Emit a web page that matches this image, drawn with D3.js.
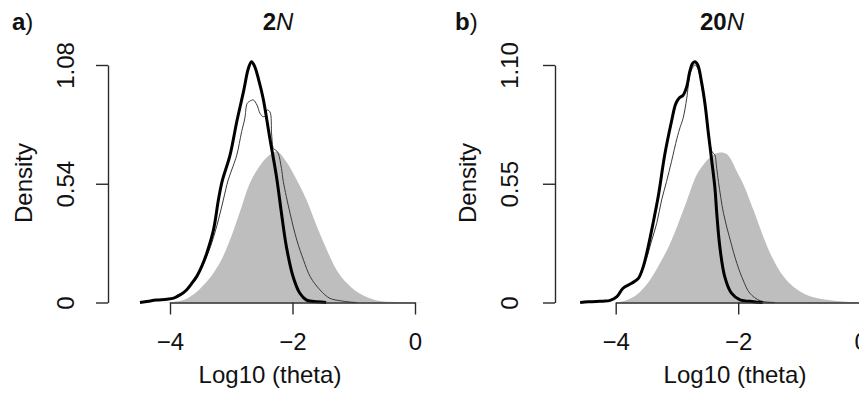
<!DOCTYPE html>
<html>
<head>
<meta charset="utf-8">
<script src="https://cdn.jsdelivr.net/npm/d3@7"></script>
<style>
  body { margin: 0; background: #fff; }
  svg { display: block; font-family: "Liberation Sans", Arial, Helvetica, sans-serif; }
  .axis path, .axis line { stroke: #2a2a2a; stroke-width: 1.4; }
</style>
</head>
<body>
<svg width="859" height="400"></svg>
<script>
// Panel a) 2N -- density curves, [log10 theta, density]
const aGrey = [[-4.1,0],[-3.9,0.004],[-3.75,0.015],[-3.6,0.04],[-3.45,0.08],[-3.3,0.13],[-3.15,0.2],[-3.0,0.3],[-2.85,0.42],[-2.7,0.54],[-2.55,0.615],[-2.4,0.665],[-2.25,0.686],[-2.1,0.64],[-1.93,0.557],[-1.77,0.466],[-1.6,0.345],[-1.44,0.24],[-1.28,0.148],[-1.11,0.087],[-0.95,0.049],[-0.75,0.02],[-0.6,0.008],[-0.3,0.002],[0.6,0]];
const aThick = [[-4.49,0],[-4.35,0.006],[-4.22,0.011],[-4.05,0.015],[-3.94,0.02],[-3.83,0.035],[-3.73,0.057],[-3.65,0.085],[-3.56,0.12],[-3.48,0.165],[-3.40,0.224],[-3.29,0.33],[-3.21,0.466],[-3.15,0.55],[-3.02,0.67],[-2.91,0.822],[-2.80,0.959],[-2.72,1.065],[-2.67,1.095],[-2.62,1.075],[-2.55,1.01],[-2.48,0.929],[-2.37,0.747],[-2.26,0.57],[-2.18,0.406],[-2.10,0.254],[-1.99,0.117],[-1.88,0.042],[-1.77,0.011],[-1.6,0.003],[-1.45,0]];
const aThin = [[-4.49,0],[-4.35,0.006],[-4.22,0.011],[-4.05,0.015],[-3.94,0.02],[-3.89,0.034],[-3.82,0.04],[-3.76,0.05],[-3.68,0.075],[-3.58,0.11],[-3.48,0.16],[-3.40,0.21],[-3.32,0.27],[-3.21,0.375],[-3.13,0.466],[-3.05,0.557],[-2.97,0.62],[-2.91,0.67],[-2.83,0.777],[-2.78,0.835],[-2.74,0.905],[-2.70,0.915],[-2.64,0.921],[-2.58,0.898],[-2.53,0.86],[-2.48,0.845],[-2.43,0.85],[-2.42,0.875],[-2.37,0.868],[-2.34,0.762],[-2.31,0.70],[-2.26,0.69],[-2.23,0.676],[-2.18,0.61],[-2.15,0.55],[-2.04,0.406],[-1.93,0.284],[-1.82,0.193],[-1.71,0.117],[-1.55,0.057],[-1.39,0.019],[-1.22,0.008],[-1.06,0.002],[-0.95,0]];
const aTicksY = [0, 0.54, 1.08];
const aLabelsY = ["0", "0.54", "1.08"];

// Panel b) 20N
const bGrey = [[-4.0,0],[-3.9,0.005],[-3.75,0.02],[-3.6,0.05],[-3.44,0.104],[-3.3,0.17],[-3.15,0.25],[-3.0,0.35],[-2.84,0.47],[-2.68,0.59],[-2.55,0.645],[-2.41,0.683],[-2.30,0.695],[-2.2,0.69],[-2.13,0.668],[-2.02,0.606],[-1.92,0.55],[-1.75,0.428],[-1.59,0.305],[-1.43,0.20],[-1.26,0.12],[-1.10,0.073],[-0.88,0.035],[-0.61,0.015],[-0.23,0.004],[0.6,0]];
const bThick = [[-4.58,0],[-4.45,0.003],[-4.31,0.005],[-4.2,0.006],[-4.09,0.01],[-3.98,0.027],[-3.88,0.066],[-3.74,0.089],[-3.63,0.112],[-3.55,0.166],[-3.47,0.258],[-3.39,0.367],[-3.30,0.50],[-3.20,0.683],[-3.09,0.837],[-3.02,0.92],[-2.96,0.948],[-2.9,0.96],[-2.84,1.0],[-2.79,1.07],[-2.75,1.105],[-2.71,1.115],[-2.66,1.10],[-2.60,1.023],[-2.54,0.915],[-2.49,0.791],[-2.43,0.652],[-2.38,0.53],[-2.35,0.413],[-2.30,0.258],[-2.22,0.12],[-2.11,0.043],[-1.97,0.012],[-1.75,0.004],[-1.6,0]];
const bThin = [[-4.58,0],[-4.45,0.003],[-4.31,0.005],[-4.2,0.006],[-4.09,0.01],[-3.98,0.027],[-3.88,0.066],[-3.74,0.089],[-3.63,0.115],[-3.57,0.15],[-3.5,0.2],[-3.42,0.28],[-3.33,0.367],[-3.25,0.475],[-3.17,0.56],[-3.09,0.652],[-3.0,0.76],[-2.95,0.81],[-2.90,0.853],[-2.84,0.946],[-2.79,1.054],[-2.74,1.09],[-2.71,1.10],[-2.66,1.085],[-2.60,1.01],[-2.54,0.905],[-2.49,0.785],[-2.43,0.70],[-2.40,0.69],[-2.38,0.683],[-2.35,0.62],[-2.32,0.555],[-2.24,0.413],[-2.13,0.289],[-2.02,0.18],[-1.92,0.104],[-1.81,0.043],[-1.64,0.008],[-1.4,0]];
const bTicksY = [0, 0.55, 1.10];
const bLabelsY = ["0", "0.55", "1.10"];

const ticksX = [-4, -2, 0];
const labelsX = ["\u22124", "\u22122", "0"];

const svg = d3.select('svg');

function drawPanel(p) {
    const g = svg.append('g');
    const x = d3.scaleLinear().domain([-4, 0]).range([p.x0, p.x0 + 245]);
    const y = d3.scaleLinear().domain([0, p.ticksY[2]]).range([302.5, 65]);

    const area = d3.area()
        .x(d => x(d[0])).y0(y(0)).y1(d => y(d[1]))
        .curve(d3.curveCatmullRom.alpha(0.5));
    const line = d3.line()
        .x(d => x(d[0])).y(d => y(d[1]))
        .curve(d3.curveCatmullRom.alpha(0.5));

    g.append('path').attr('d', area(p.grey)).attr('fill', '#bebebe');
    g.append('path').attr('d', line(p.thin))
        .attr('fill', 'none').attr('stroke', '#3a3a3a').attr('stroke-width', 1);
    g.append('path').attr('d', line(p.thick))
        .attr('fill', 'none').attr('stroke', '#000').attr('stroke-width', 3)
        .attr('stroke-linejoin', 'round');

    // x axis
    const ax = g.append('g').attr('class', 'axis')
        .attr('transform', `translate(0,${y(0)})`)
        .call(d3.axisBottom(x).tickValues(ticksX).tickSize(12).tickSizeOuter(0)
            .tickFormat((d, i) => labelsX[i]));
    ax.selectAll('text')
        .attr('y', 47.5).attr('dy', 0)
        .attr('font-size', 24).attr('fill', '#111')
        .attr('font-family', '"Liberation Sans", Arial, sans-serif');

    // y axis, labels turned like R's default
    const ay = g.append('g').attr('class', 'axis')
        .attr('transform', `translate(${p.yAxisX},0)`)
        .call(d3.axisLeft(y).tickValues(p.ticksY).tickSize(12).tickSizeOuter(0)
            .tickFormat((d, i) => p.labelsY[i]));
    ay.selectAll('text')
        .attr('transform', 'rotate(-90)')
        .attr('x', 0).attr('y', -p.yLabOff).attr('dy', 0)
        .attr('text-anchor', 'middle')
        .attr('font-size', 24).attr('fill', '#111')
        .attr('font-family', '"Liberation Sans", Arial, sans-serif');

    // axis titles
    g.append('text')
        .attr('x', p.xlabX).attr('y', 383)
        .attr('text-anchor', 'middle').attr('font-size', 24).attr('fill', '#111')
        .text('Log10 (theta)');
    g.append('text')
        .attr('transform', `translate(${p.densX},183) rotate(-90)`)
        .attr('text-anchor', 'middle').attr('font-size', 24).attr('fill', '#111')
        .text('Density');

    // panel title: bold number, italic N
    const t = g.append('text')
        .attr('x', p.titleX).attr('y', 30)
        .attr('text-anchor', 'middle').attr('font-size', 24).attr('fill', '#111');
    t.append('tspan').attr('font-weight', 'bold').text(p.title);
    t.append('tspan').attr('font-style', 'italic').text('N');

    // panel letter
    const l = g.append('text')
        .attr('x', p.letterX).attr('y', 30)
        .attr('font-size', 24).attr('fill', '#111');
    l.append('tspan').attr('font-weight', 'bold').text(p.letter);
    l.append('tspan').text(')');
}

drawPanel({
    x0: 170, yAxisX: 108, yLabOff: 34, densX: 32, xlabX: 270, titleX: 278, letterX: 12,
    title: '2', letter: 'a', grey: aGrey, thick: aThick, thin: aThin,
    ticksY: aTicksY, labelsY: aLabelsY
});
drawPanel({
    x0: 615.7, yAxisX: 555, yLabOff: 37, densX: 476, xlabX: 735, titleX: 722, letterX: 455,
    title: '20', letter: 'b', grey: bGrey, thick: bThick, thin: bThin,
    ticksY: bTicksY, labelsY: bLabelsY
});
</script>
</body>
</html>
